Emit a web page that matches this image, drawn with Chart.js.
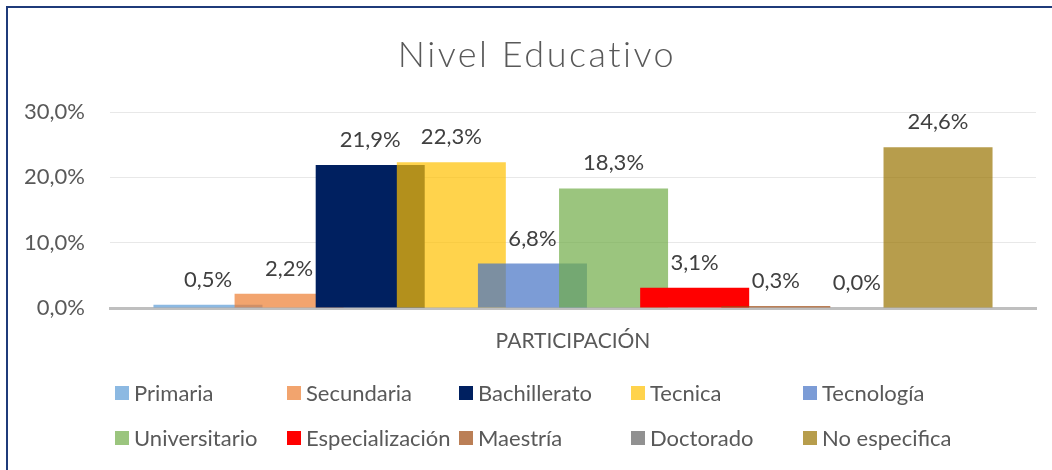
<!DOCTYPE html>
<html>
<head>
<meta charset="utf-8">
<script src="https://cdn.jsdelivr.net/npm/chart.js@4.4.1/dist/chart.umd.min.js"></script>
<style>
  html, body { margin: 0; padding: 0; background: #fff; }
  #wrap { width: 1052px; height: 470px; position: relative; }
</style>
</head>
<body>
<div id="wrap"><canvas id="chart" width="1052" height="470"></canvas></div>
<script>
const chartTitle = 'Nivel Educativo'
const categories = ['PARTICIPACIÓN']
const seriesNames = ['Primaria', 'Secundaria', 'Bachillerato', 'Tecnica', 'Tecnología',
  'Universitario', 'Especialización', 'Maestría', 'Doctorado', 'No especifica']
const seriesValues = [0.5, 2.2, 21.9, 22.3, 6.8, 18.3, 3.1, 0.3, 0.0, 24.6]
const seriesColors = [
  'rgba(91,155,213,0.7)', 'rgba(237,125,49,0.7)', '#002060', 'rgba(255,192,0,0.7)',
  'rgba(68,114,196,0.7)', 'rgba(112,173,71,0.7)', '#ff0000', 'rgba(158,72,14,0.7)',
  'rgba(99,99,99,0.7)', 'rgba(153,115,0,0.7)'
]
const yTicks = [0, 10, 20, 30]

const pct = (v) => v.toFixed(1).replace('.', ',') + '%'
const textGray = '#595959'

Chart.defaults.font.family = 'Lato, "Open Sans", sans-serif'

// draw datasets left to right so later bars overlap earlier ones (like Excel)
const drawOrder = {
  id: 'drawOrder',
  beforeDatasetsDraw(chart) {
    chart.getSortedVisibleDatasetMetas().forEach((meta) => meta.controller.draw())
    return false
  }
}

const decorations = {
  id: 'decorations',
  afterDraw(chart) {
    const ctx = chart.ctx
    ctx.save()

    // value labels
    ctx.font = '22px Lato'
    ctx.fillStyle = '#404040'
    ctx.textAlign = 'center'
    ctx.textBaseline = 'alphabetic'
    chart.getSortedVisibleDatasetMetas().forEach((meta) => {
      const bar = meta.data[0]
      ctx.fillText(pct(seriesValues[meta.index]), bar.x, bar.y - 18)
    })

    // title
    ctx.font = '300 36px Lato'
    ctx.letterSpacing = '2.5px'
    ctx.fillStyle = textGray
    ctx.fillText(chartTitle, 537, 67)
    ctx.letterSpacing = '0px'

    // legend
    ctx.font = '22px Lato'
    ctx.textAlign = 'left'
    ctx.textBaseline = 'middle'
    seriesNames.forEach((name, i) => {
      const x = 115 + (i % 5) * 172
      const y = 393 + Math.floor(i / 5) * 45
      ctx.fillStyle = seriesColors[i]
      ctx.fillRect(x, y - 7, 14, 14)
      ctx.fillStyle = textGray
      ctx.fillText(name, x + 19, y + 1)
    })

    // frame
    ctx.fillStyle = '#1f3b7a'
    ctx.fillRect(6, 6, 1046, 2)
    ctx.fillRect(6, 6, 2, 464)
    ctx.restore()
  }
}

new Chart(document.getElementById('chart'), {
  type: 'bar',
  data: {
    labels: categories,
    datasets: seriesNames.map((name, i) => ({
      label: name,
      data: [seriesValues[i]],
      backgroundColor: seriesColors[i],
      borderWidth: 0,
      categoryPercentage: 0.876,
      barPercentage: 1.344,
    }))
  },
  options: {
    responsive: false,
    animation: false,
    layout: { padding: { top: 112, left: 0, right: 16, bottom: 112 } },
    plugins: {
      legend: { display: false },
      title: { display: false },
      tooltip: { enabled: false },
    },
    scales: {
      x: {
        grid: { display: false },
        border: { display: true, color: '#bfbfbf', width: 3 },
        ticks: { color: textGray, font: { size: 21 }, padding: 13 },
        afterFit: (scale) => { scale.height = 50 },
      },
      y: {
        min: 0,
        max: 30,
        afterBuildTicks: (scale) => { scale.ticks = yTicks.map((v) => ({ value: v })) },
        grid: { color: '#e8e8e8', lineWidth: 1, drawTicks: false },
        border: { display: false },
        ticks: { color: textGray, font: { size: 22 }, padding: 25, callback: (v) => pct(v) },
        afterFit: (scale) => { scale.width = 110 },
      }
    }
  },
  plugins: [drawOrder, decorations]
})
</script>
</body>
</html>
